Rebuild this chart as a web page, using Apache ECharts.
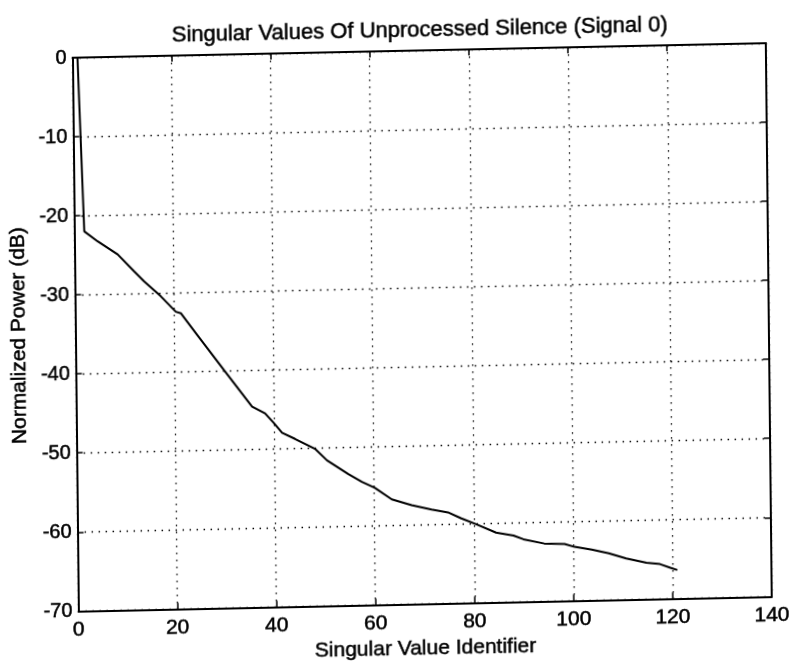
<!DOCTYPE html>
<html>
<head>
<meta charset="utf-8">
<script src="https://cdn.jsdelivr.net/npm/echarts@6/dist/echarts.min.js"></script>
<style>
  html, body { margin: 0; padding: 0; background: #fff; overflow: hidden; }
  #chart {
    width: 793px; height: 665px;
    transform-origin: 396.5px 332.5px;
    transform: matrix(1, -0.021, 0.0107, 1, 0, 0);
  }
</style>
</head>
<body>
<div id="chart"></div>
<script>
// Singular value identifiers (x) and normalized power in dB (y)
var identifiers = [1, 2, 4.7, 8.7, 12, 14, 17.3, 20.3, 21.3, 24.7, 30, 35.5, 38.1, 39.8, 41.5, 44.1, 48.1, 50.5, 54.8, 57.5, 60.1, 63.5, 67.5, 71.5, 74.8, 77.5, 80.6, 84.5, 88, 90, 94.2, 98.3, 100.3, 103.8, 107.2, 110.7, 114.8, 117.5, 119.6, 121];
var powerDb = [0, -22, -23.3, -25, -27.2, -28.5, -30.4, -32.4, -32.6, -35.5, -40, -44.6, -45.5, -46.7, -48, -48.8, -50.1, -51.6, -53.4, -54.4, -55.2, -56.7, -57.5, -58.1, -58.5, -59.3, -60.1, -61.2, -61.6, -62.1, -62.7, -62.8, -63.2, -63.6, -64.1, -64.8, -65.4, -65.6, -66.1, -66.4];
var xTicks = [0, 20, 40, 60, 80, 100, 120, 140];
var yTicks = [-70, -60, -50, -40, -30, -20, -10, 0];

var titleText = 'Singular Values Of Unprocessed Silence (Signal 0)';
var xName = 'Singular Value Identifier';
var yName = 'Normalized Power (dB)';

var FONT = '"Liberation Sans", Arial, Helvetica, sans-serif';

var points = identifiers.map(function (x, i) { return [x, powerDb[i]]; });

var chart = echarts.init(document.getElementById('chart'), null, { renderer: 'canvas' });

var dotted = { color: '#000', width: 1.3, type: [1.5, 5.5] };
var ink = { textBorderColor: '#000', textBorderWidth: 0.5 };

function txt(size) {
  return Object.assign({ fontFamily: FONT, fontSize: size, fontWeight: 'normal', color: '#000' }, ink);
}

chart.setOption({
  animation: false,
  backgroundColor: '#fff',
  title: {
    text: titleText,
    left: 418,
    top: 15,
    textAlign: 'center',
    textStyle: txt(22)
  },
  grid: { left: 71, right: 24, top: 51, bottom: 54, containLabel: false },
  xAxis: [{
    type: 'value',
    min: xTicks[0],
    max: xTicks[xTicks.length - 1],
    interval: xTicks[1] - xTicks[0],
    position: 'bottom',
    name: xName,
    nameLocation: 'middle',
    nameGap: 31,
    nameTextStyle: txt(21),
    axisLine: { show: true, onZero: false, lineStyle: { color: '#000', width: 2 } },
    axisTick: { show: true, inside: true, length: 6, lineStyle: { color: '#000', width: 1.5 } },
    axisLabel: Object.assign({ show: true, margin: 8 }, txt(21)),
    splitLine: { show: true, lineStyle: dotted }
  }, {
    type: 'value',
    min: xTicks[0],
    max: xTicks[xTicks.length - 1],
    interval: xTicks[1] - xTicks[0],
    position: 'top',
    axisLine: { show: true, onZero: false, lineStyle: { color: '#000', width: 2 } },
    axisTick: { show: true, inside: true, length: 6, lineStyle: { color: '#000', width: 1.5 } },
    axisLabel: { show: false },
    splitLine: { show: false }
  }],
  yAxis: [{
    type: 'value',
    min: yTicks[0],
    max: yTicks[yTicks.length - 1],
    interval: yTicks[1] - yTicks[0],
    position: 'left',
    name: yName,
    nameLocation: 'middle',
    nameGap: 37,
    nameTextStyle: txt(21),
    axisLine: { show: true, onZero: false, lineStyle: { color: '#000', width: 2 } },
    axisTick: { show: true, inside: true, length: 6, lineStyle: { color: '#000', width: 1.5 } },
    axisLabel: Object.assign({ show: true, margin: 6 }, txt(20)),
    splitLine: { show: true, lineStyle: dotted }
  }, {
    type: 'value',
    min: yTicks[0],
    max: yTicks[yTicks.length - 1],
    interval: yTicks[1] - yTicks[0],
    position: 'right',
    axisLine: { show: true, onZero: false, lineStyle: { color: '#000', width: 2 } },
    axisTick: { show: true, inside: true, length: 6, lineStyle: { color: '#000', width: 1.5 } },
    axisLabel: { show: false },
    splitLine: { show: false }
  }],
  series: [{
    type: 'line',
    xAxisIndex: 0,
    yAxisIndex: 0,
    data: points,
    showSymbol: false,
    symbol: 'none',
    smooth: false,
    lineStyle: { color: '#000', width: 2 }
  }]
});
</script>
</body>
</html>
